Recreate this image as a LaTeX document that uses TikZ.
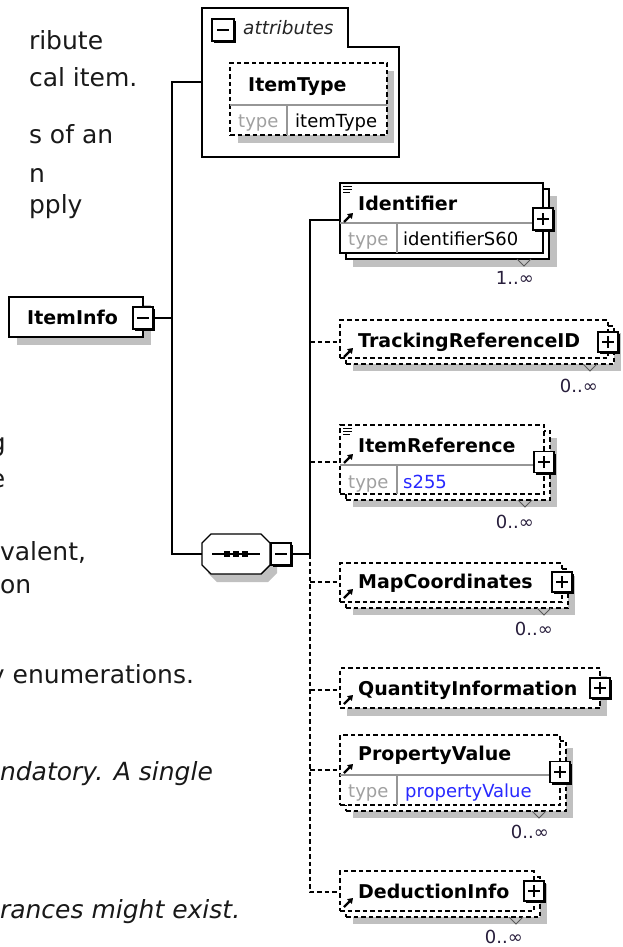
\documentclass[tikz,border=0pt]{standalone}
\usepackage{fontspec}
\setmainfont{DejaVu Sans}
\usetikzlibrary{arrows.meta}
\definecolor{shadowgray}{RGB}{192,192,192}
\definecolor{typegray}{RGB}{160,160,160}
\definecolor{divgray}{RGB}{150,150,150}
\definecolor{typeblue}{RGB}{40,40,255}
\definecolor{occcol}{RGB}{40,30,60}
\definecolor{textdark}{RGB}{25,25,25}
\newcommand\fsz[1]{\fontsize{#1}{#1}\selectfont}
\newcommand\pmframe[1]{%
  \draw[line width=2.2pt] ([xshift=2pt,yshift=-1pt]#1.south west) -- ([xshift=1pt,yshift=-1pt]#1.south east) -- ([xshift=1pt,yshift=-2pt]#1.north east);
  \draw[line width=1.3pt] ([xshift=-6pt]#1.center) -- ([xshift=6pt]#1.center);}
\newcommand\plusdeco[1]{\pmframe{#1}\draw[line width=1.3pt] ([yshift=-6pt]#1.center) -- ([yshift=6pt]#1.center);}
\newcommand\docicon[2]{\draw[line width=1pt] (#1,#2) -- ++(9,0) (#1,#2+3) -- ++(9,0) (#1,#2+6) -- ++(7,0);}
\newcommand\refarrow[2]{\draw[line width=2.2pt, -{Triangle[length=5pt,width=6.5pt]}] (#1,#2) -- ++(9,-9);}
\newcommand\chev[2]{\draw[line width=0.8pt, black!65] (#1-7,#2) -- (#1,#2+7) -- (#1+7,#2);}
\tikzset{
 ln/.style={line width=1.4pt},
 dsh/.style={line width=1.4pt, dash pattern=on 4.5pt off 3pt},
 ebox/.style={draw, line width=1.3pt, fill=white, inner sep=0pt, outer sep=0pt, anchor=north west},
 debox/.style={ebox, dash pattern=on 4.5pt off 3pt},
 divline/.style={line width=1.1pt, color=divgray},
 lt/.style={anchor=base west, inner sep=0pt, outer sep=0pt, text=textdark, font={\fsz{25}}},
 lti/.style={lt, font={\fsz{25}\itshape}},
 elbl/.style={anchor=base west, inner sep=0pt, font={\fsz{19}\bfseries}},
 tlbl/.style={anchor=base west, inner sep=0pt, font={\fsz{18}}, text=typegray},
 tval/.style={anchor=base west, inner sep=0pt, font={\fsz{18}}},
 bval/.style={tval, text=typeblue},
 occ/.style={anchor=base east, inner sep=0pt, font={\fsz{18}}, text=occcol},
 pm/.style={draw, fill=white, line width=1.2pt, minimum width=20pt, minimum height=20pt, inner sep=0pt, outer sep=0pt},
 shd/.style={fill=shadowgray, draw=none},
}
\begin{document}
\begin{tikzpicture}[x=1pt,y=-1pt]
\useasboundingbox (0,0) rectangle (622,947);
\clip (0,0) rectangle (622,947);
\fill[white] (0,0) rectangle (622,947);

% ---- left background text ----
\node[lt] (t1) at (29,50) {ribute};
\node[lt] (t2) at (29,87) {cal item.};
\node[lt] (t3) at (29,143) {s of an};
\node[lt] (t4) at (29,182) {n};
\node[lt] (t5) at (29,213) {pply};
\node[lt] (t6) at (-10,451) {g};
\node[lt] (t7) at (-10,487) {e};
\node[lt] (t8) at (0,560) {valent,};
\node[lt] (t9) at (0,593) {on};
\node[lt] (t10) at (-10,683) {y enumerations.};
\node[lti] (t11) at (0,780) {ndatory. A single};
\node[lti] (t12) at (0,918) {rances might exist.};

% ---- coordinates of junctions ----
\coordinate (attrIn) at (202,82);
\coordinate (jTop) at (172,82);
\coordinate (jL) at (172,318);
\coordinate (jBot) at (172,554);
\coordinate (rJ) at (310,554);
\coordinate (rTop) at (310,220);
\coordinate (rBot) at (310,892);
\coordinate (r2) at (310,342);
\coordinate (r3) at (310,462);
\coordinate (r4) at (310,582);
\coordinate (r5) at (310,690);
\coordinate (r6) at (310,770);
\coordinate (idIn) at (340,220);
\coordinate (trIn) at (340,342);
\coordinate (irIn) at (340,462);
\coordinate (mcIn) at (340,582);
\coordinate (qiIn) at (340,690);
\coordinate (pvIn) at (340,770);
\coordinate (diIn) at (340,892);

% ---- attributes container ----
\draw[ln, fill=white] (202,157) -- (202,8) -- (348,8) -- (348,47) -- (399,47) -- (399,157) -- cycle;
\node[pm, minimum width=22pt, minimum height=22pt] (attM) at (223,30) {};
\pmframe{attM}
\node[anchor=base west, inner sep=0pt, font={\fsz{18.5}\itshape}, text=black!85] (attL) at (243,35) {attributes};
\fill[shd] (238,71) rectangle (394,143);
\node[debox, minimum width=157pt, minimum height=72pt] (it) at (230,63) {};
\draw[divline] (230,105) -- (387,105);
\draw[divline] (287,105) -- (287,135);
\node[elbl] (itL) at (248,92) {ItemType};
\node[tlbl] (itT) at (238,128) {type};
\node[tval] (itV) at (295,128) {itemType};

% ---- ItemInfo ----
\fill[shd] (17,305) rectangle (151,345);
\node[ebox, minimum width=134pt, minimum height=40pt] (ii) at (9,297) {};
\node[elbl] (iiL) at (27,324) {ItemInfo};
\node[pm, minimum height=22pt] (iiM) at (143,318) {};
\pmframe{iiM}

% ---- sequence compositor ----
\fill[shd] (217,542) -- (268,542) -- (277,551) -- (277,573) -- (268,582) -- (217,582) -- (208,573) -- (208,551) -- cycle;
\node[minimum width=68pt, minimum height=40pt, inner sep=0pt, outer sep=0pt] (seq) at (236,554) {};
\draw[ln, fill=white] (211,534) -- (261,534) -- (270,543) -- (270,565) -- (261,574) -- (211,574) -- (202,565) -- (202,543) -- cycle;
\draw[line width=1.2pt] (212,554) -- (260,554);
\foreach \dx in {227,236,245} \fill (\dx-2.8,551.2) rectangle (\dx+2.8,556.8);
\node[pm, minimum height=22pt] (sqM) at (281,554) {};
\pmframe{sqM}

% ---- connectors ----
\draw[ln] (iiM.east) -- (jL);
\draw[ln] (attrIn) -- (jTop) -- (jBot) -- (seq.west);
\draw[ln] (sqM.east) -- (rJ);
\draw[ln] (rJ) -- (rTop) -- (idIn);
\draw[dsh] (rJ) -- (rBot) -- (diIn);
\draw[dsh] (r2) -- (trIn);
\draw[dsh] (r3) -- (irIn);
\draw[dsh] (r4) -- (mcIn);
\draw[dsh] (r5) -- (qiIn);
\draw[dsh] (r6) -- (pvIn);

% ---- Identifier ----
\fill[shd] (353,196) rectangle (557,267);
\node[ebox, minimum width=203pt, minimum height=70pt] (idB) at (346,189) {};
\node[ebox, minimum width=203pt, minimum height=70pt] (id) at (340,183) {};
\draw[divline] (340,223) -- (533,223);
\draw[divline] (397,223) -- (397,253);
\node[elbl] (idL) at (358,210) {Identifier};
\node[tlbl] (idT) at (348,245) {type};
\node[tval] (idV) at (403,245) {identifierS60};
\node[pm, minimum height=22pt] (idP) at (543,219) {};
\plusdeco{idP}
\docicon{343}{186}
\refarrow{344}{222}
\chev{524}{259}
\node[occ] (idO) at (534,284) {1..∞};

% ---- TrackingReferenceID ----
\fill[shd] (353,333) rectangle (621,371);
\node[debox, minimum width=268pt, minimum height=38pt] (trB) at (346,326) {};
\node[debox, minimum width=268pt, minimum height=38pt] (tr) at (340,320) {};
\node[elbl] (trL) at (358,347) {TrackingReferenceID};
\node[pm] (trP) at (608,342) {};
\plusdeco{trP}
\refarrow{344}{357}
\chev{590}{364}
\node[occ] (trO) at (598,392) {0..∞};

% ---- ItemReference ----
\fill[shd] (353,438) rectangle (557,507);
\node[debox, minimum width=204pt, minimum height=69pt] (irB) at (346,431) {};
\node[debox, minimum width=204pt, minimum height=69pt] (ir) at (340,425) {};
\draw[divline] (340,465) -- (533,465);
\draw[divline] (397,465) -- (397,494);
\node[elbl] (irL) at (358,452) {ItemReference};
\node[tlbl] (irT) at (348,488) {type};
\node[bval] (irV) at (403,488) {s255};
\node[pm, minimum height=21pt] (irP) at (544,462) {};
\plusdeco{irP}
\docicon{343}{428}
\refarrow{344}{463}
\chev{525}{500}
\node[occ] (irO) at (534,528) {0..∞};

% ---- MapCoordinates ----
\fill[shd] (353,576) rectangle (575,615);
\node[debox, minimum width=222pt, minimum height=39pt] (mcB) at (346,569) {};
\node[debox, minimum width=222pt, minimum height=39pt] (mc) at (340,563) {};
\node[elbl] (mcL) at (358,588) {MapCoordinates};
\node[pm] (mcP) at (562,582) {};
\plusdeco{mcP}
\refarrow{344}{598}
\chev{544}{608}
\node[occ] (mcO) at (553,635) {0..∞};

% ---- QuantityInformation ----
\fill[shd] (347,676) rectangle (607,716);
\node[debox, minimum width=260pt, minimum height=40pt] (qi) at (340,668) {};
\node[elbl] (qiL) at (358,695) {QuantityInformation};
\node[pm] (qiP) at (600,688) {};
\plusdeco{qiP}
\refarrow{344}{704}

% ---- PropertyValue ----
\fill[shd] (353,748) rectangle (573,818);
\node[debox, minimum width=220pt, minimum height=70pt] (pvB) at (346,741) {};
\node[debox, minimum width=220pt, minimum height=70pt] (pv) at (340,735) {};
\draw[divline] (340,775) -- (549,775);
\draw[divline] (397,775) -- (397,805);
\node[elbl] (pvL) at (358,760) {PropertyValue};
\node[tlbl] (pvT) at (348,797) {type};
\node[bval] (pvV) at (405,797) {propertyValue};
\node[pm, minimum height=21pt] (pvP) at (560,772) {};
\plusdeco{pvP}
\refarrow{344}{773}
\chev{539}{811}
\node[occ] (pvO) at (549,838) {0..∞};

% ---- DeductionInfo ----
\fill[shd] (353,884) rectangle (547,924);
\node[debox, minimum width=194pt, minimum height=40pt] (diB) at (346,877) {};
\node[debox, minimum width=194pt, minimum height=40pt] (di) at (340,871) {};
\node[elbl] (diL) at (358,898) {DeductionInfo};
\node[pm] (diP) at (534,891) {};
\plusdeco{diP}
\refarrow{344}{907}
\chev{516}{917}
\node[occ] (diO) at (523,943) {0..∞};
\end{tikzpicture}
\end{document}
